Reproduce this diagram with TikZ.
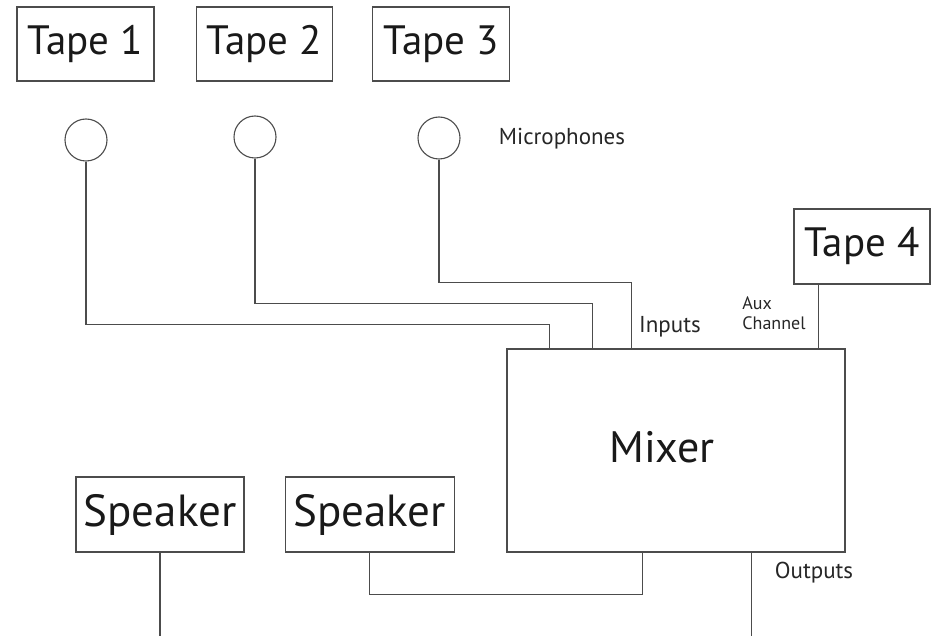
\documentclass[tikz,border=0pt]{standalone}
\usepackage{fontspec}
\setmainfont{PT Sans}
\usetikzlibrary{positioning}
\usetikzlibrary{calc}

\begin{document}
\begin{tikzpicture}[
  x=1pt, y=-1pt,
  big/.style={font=\fontsize{41}{44}\selectfont},
  small/.style={font=\fontsize{23}{26}\selectfont, text=black!85},
  tiny/.style={font=\fontsize{18}{20}\selectfont, text=black!85, align=left},
  box/.style={draw=black!70, line width=1.3pt, inner sep=0pt, big, text=black!90},
  tapebox/.style={box, minimum width=137pt, minimum height=74pt},
  spkbox/.style={box, minimum width=168pt, minimum height=75pt, font=\fontsize{45}{48}\selectfont},
  mic/.style={draw=black!70, line width=1.1pt, circle, minimum size=42pt, inner sep=0pt},
  wire/.style={draw=black!70, line width=1.3pt}
]
\useasboundingbox (0,0) rectangle (939,636);
\coordinate (bot) at (0,636);

\node[tapebox] (tape1) at (85.5,44) {Tape 1};
\node[tapebox, right=41pt of tape1, minimum width=136pt] (tape2) {Tape 2};
\node[tapebox, right=39pt of tape2] (tape3) {Tape 3};
\node[tapebox, minimum width=136pt, minimum height=75pt] (tape4) at (862,246.5) {Tape 4};

\node[mic] (mic1) at (86,140) {};
\node[mic] (mic2) at (255,137) {};
\node[mic] (mic3) at (439,138) {};
\node[small] (micl) at (562,139) {Microphones};

\node[box, minimum width=338pt, minimum height=203pt,
  label={[font=\fontsize{44}{46}\selectfont, text=black!90, xshift=-14pt, yshift=3pt]center:Mixer}] (mixer) at (676,450.5) {};

\node[spkbox] (spk1) at (160,514.5) {Speaker};
\node[spkbox, right=40pt of spk1, minimum width=169pt] (spk2) {Speaker};

\node[small] (inl) at (670,327) {Inputs};
\node[tiny] (auxl) at (774,313) {Aux\\Channel};
\node[small] (outl) at (814,573) {Outputs};

% inputs into the mixer
\coordinate (in1) at ([xshift=43pt]mixer.north west);
\coordinate (in2) at ([xshift=86pt]mixer.north west);
\coordinate (in3) at ([xshift=125pt]mixer.north west);
\draw[wire] (mic1.south) |- ([yshift=24pt]in1) -- (in1);
\draw[wire] (mic2.south) |- ([yshift=45pt]in2) -- (in2);
\draw[wire] (mic3.south) |- ([yshift=66pt]in3) -- (in3);
\coordinate (aux) at ([xshift=25pt]tape4.south west);
\draw[wire] (aux) -- (aux |- mixer.north);

% outputs
\coordinate (out1) at ([xshift=136pt]mixer.south west);
\coordinate (out2) at ([xshift=245pt]mixer.south west);
\draw[wire] (out1) -- ([yshift=-42pt]out1) -| (spk2.south);
\draw[wire] (out2) -- (out2 |- bot);
\draw[wire] (spk1.south) -- (spk1.south |- bot);

\end{tikzpicture}
\end{document}
